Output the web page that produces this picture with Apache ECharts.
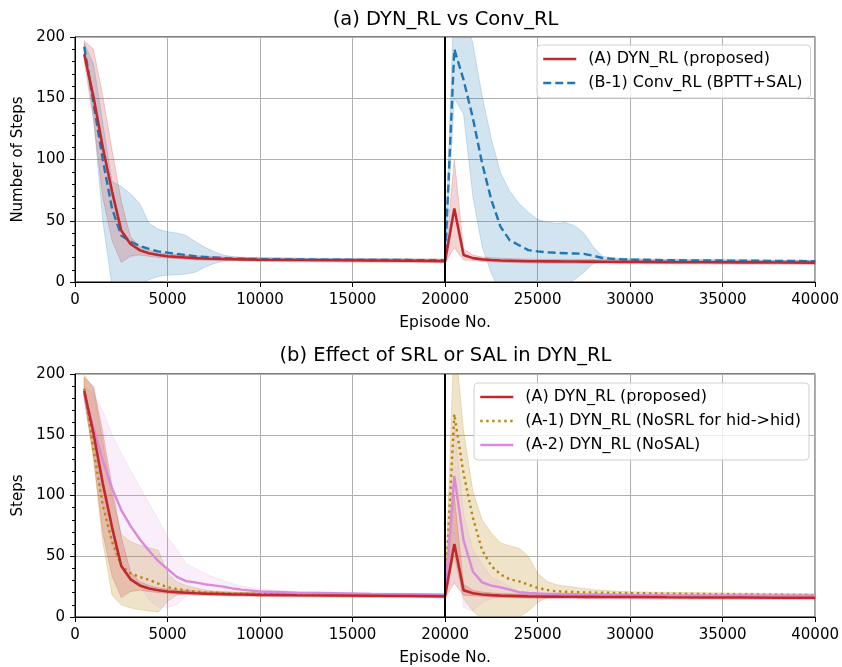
<!DOCTYPE html>
<html><head><meta charset="utf-8">
<script src="https://cdn.jsdelivr.net/npm/echarts@6/dist/echarts.min.js"></script>
<style>html,body{margin:0;padding:0;background:#fff}#c{width:842px;height:667px}</style>
</head><body><div id="c"></div>
<script>
const episodes = [500,1000,1500,2000,2500,3000,3500,4000,4500,5000,5500,6000,6500,7000,7500,8000,8500,9000,10000,12000,14000,16000,18000,20000,
  20500,21000,21500,22000,22500,23000,23500,24000,24500,25000,25500,26000,26500,27000,27500,28000,28500,29000,29500,30000,
  32000,34000,36000,38000,40000];
const switchEpisode = 20000;

const dynMean = [186,151,110,74,42,31,26,23.5,22,21,20.5,20,19.5,19.2,19,18.8,18.6,18.5,18.2,17.9,17.7,17.5,17.3,17.0,
  60,22,19.5,18.5,18,17.6,17.4,17.2,17,16.9,16.8,16.8,16.7,16.7,16.6,16.6,16.5,16.5,16.4,16.4,
  16.2,16.1,16.0,15.9,15.8];
const dynHi = [197,190,152,108,66,37,29,26,24,23,22.5,22,21.5,21,20.8,20.5,20.3,20.2,19.9,19.5,19.3,19.1,18.9,18.6,
  100,27,22,20.5,20,19.4,19.1,18.9,18.7,18.6,18.5,18.5,18.4,18.4,18.3,18.3,18.2,18.2,18.1,18.1,
  17.9,17.8,17.7,17.6,17.5];
const dynLo = [180,132,69,34,16,21,22,21,20,19.5,19,18.5,18,17.8,17.6,17.4,17.2,17.1,16.8,16.5,16.3,16.1,15.9,15.6,
  28,18,17.5,16.8,16.4,16.1,15.9,15.7,15.5,15.4,15.3,15.3,15.2,15.2,15.1,15.1,15.0,15.0,14.9,14.9,
  14.7,14.6,14.5,14.4,14.3];

const convMean = [192,146,100,60,38,33,29.5,27,25,24,23,22,21,20.5,20,19.5,19.2,19,18.7,18.4,18.2,18.0,17.9,17.8,
  190,165,134,97,67,45,34,30,26,25,24.2,23.8,23.5,23.3,23,21.5,19.6,19,18.6,18.3,
  17.8,17.6,17.4,17.2,17.0];
const convHi = [195,178,130,82,78,72,64,48,43,41,40,38,33,28.5,25,22,20.8,20,19.6,19.3,19.1,18.9,18.8,18.7,
  240,222,195,152,117,89,74,64,57,51,49,48,48.5,46,40,29,21,19.8,19.4,19.1,
  18.6,18.3,18.1,17.9,17.7];
const convLo = [188,135,50,-3,-5,-5,-2,2,4.5,5.5,6,6.5,8,12,15,17,17.5,17.6,17.6,17.5,17.3,17.1,17,16.9,
  150,137,70,29,7,-8,-10,-10,-10,-10,-8,-5,-3,2,8,15,18,18,17.8,17.6,
  17.2,17.0,16.8,16.6,16.4];

const noSrlMean = [188,138,92,62,42,36,33,30.5,27.5,24.5,23,22,21,20.3,20,19.6,19.3,19.1,18.8,18.4,18.1,17.9,17.7,17.5,
  167,118,82,55,42,35,31,29.4,26.6,24,22.2,21.2,20.8,20.5,20.3,20.1,20,19.9,19.8,19.7,
  19.2,18.9,18.6,18.3,18.0];
const noSrlHi = [199,188,145,100,68,62,59,57,55,36,29,26,24,22.5,21.5,21,20.5,20.3,20,19.6,19.3,19.1,18.9,18.7,
  235,153,104,80,69,61,58.5,56.6,50,36,29.4,26.6,25.5,24.5,23.5,22.5,22,21.5,21,20.8,
  20.3,20,19.7,19.4,19.1];
const noSrlLo = [180,130,62,18,10,7.5,6,5,4,13,18,19,19.2,19,18.8,18.6,18.4,18.2,18,17.6,17.4,17.2,17,16.8,
  50,15,5,-2,-6,-6,-3,0,5,12,16,17.5,18,18.2,18.3,18.3,18.2,18.2,18.1,18.1,
  17.8,17.6,17.4,17.2,17];

const noSalMean = [184,156,129,106,88,75,64,54.5,46,39.5,33,29.5,28.5,27,26,25,23.5,22.5,21,20,19.5,19,18.7,18.3,
  116,63,37.5,28.5,25.8,24.4,22.5,20.4,19.8,19.3,19,18.9,18.8,18.7,18.6,18.5,18.4,18.3,18.2,18.1,
  17.9,17.8,17.7,17.6,17.5];
const noSalHi = [190,184,170,150,135,121,107,94,80,66,56,44,40,36,33,30,27.5,25.5,23,21,20.5,20,19.7,19.4,
  160,85,55,44,33,29,25,21,20.5,20,19.8,19.7,19.6,19.5,19.4,19.3,19.2,19.1,19,19,
  18.8,18.7,18.6,18.5,18.4];
const noSalLo = [178,138,92,60,42,33,26,14,8,8,10,17,19.5,20,20,19.5,19.2,19,18.5,18.2,18,17.8,17.6,17.4,
  70,8,5,12,15,17,17.5,17.8,17.8,17.7,17.6,17.5,17.4,17.3,17.2,17.1,17,17,16.9,16.9,
  16.7,16.6,16.5,16.4,16.3];

const titles = ['(a) DYN_RL vs Conv_RL', '(b) Effect of SRL or SAL in DYN_RL'];
const yNames = ['Number of Steps', 'Steps'];
const xName = 'Episode No.';
const names = {
  dyn: '(A) DYN_RL (proposed)',
  conv: '(B-1) Conv_RL (BPTT+SAL)',
  noSrl: '(A-1) DYN_RL (NoSRL for hid->hid)',
  noSal: '(A-2) DYN_RL (NoSAL)'
};

const FONT = 'DejaVu Sans';
const C = { red:'#c0282d', blue:'#1f77b4', gold:'#b8860b', violet:'#da8ada' };
function rgba(hex, a){ const n=parseInt(hex.slice(1),16); return `rgba(${n>>16},${(n>>8)&255},${n&255},${a})`; }

function band(idx, lo, hi, color, alpha){
  return {
    type:'custom', xAxisIndex:idx, yAxisIndex:idx, clip:true, silent:true, z:1,
    data: episodes.map((x,i)=>[x, lo[i], hi[i]]),
    encode:{x:0, y:[1,2]},
    renderItem:function(params, api){
      if (params.dataIndex !== 0) return null;
      const pts=[];
      for (let i=0;i<episodes.length;i++) pts.push(api.coord([episodes[i], hi[i]]));
      for (let i=episodes.length-1;i>=0;i--) pts.push(api.coord([episodes[i], lo[i]]));
      return {type:'polygon', shape:{points:pts}, style:{fill:rgba(color,alpha), stroke:rgba(color,alpha), lineWidth:1}};
    }
  };
}
function line(idx, name, vals, color, type, width){
  return {
    type:'line', name:name, xAxisIndex:idx, yAxisIndex:idx, z:3,
    data: episodes.map((x,i)=>[x, vals[i]]),
    symbol:'none', showSymbol:false, smooth:false, clip:true,
    lineStyle:{color:color, width:width, type:type},
    itemStyle:{color:color},
    emphasis:{disabled:true}
  };
}
function vline(idx){
  return {
    type:'line', xAxisIndex:idx, yAxisIndex:idx, data:[], silent:true, z:4,
    markLine:{symbol:['none','none'], silent:true, label:{show:false},
      lineStyle:{color:'#000', width:2, type:'solid'},
      data:[{xAxis:switchEpisode}]}
  };
}

const grids = [
  {left:75, top:37, width:741, height:245, show:true, borderColor:'#000', borderWidth:1, backgroundColor:'transparent'},
  {left:75, top:374, width:741, height:245, show:true, borderColor:'#000', borderWidth:1, backgroundColor:'transparent'}
];
function xAxis(idx){
  return {type:'value', gridIndex:idx, min:0, max:40000, interval:5000,
    name:xName, nameLocation:'middle', nameGap:33,
    nameTextStyle:{fontFamily:FONT, fontSize:15.5, color:'#000'},
    axisLine:{show:true, lineStyle:{color:'#000', width:1}},
    axisTick:{show:true, inside:false, length:5, lineStyle:{color:'#000'}},
    axisLabel:{fontFamily:FONT, fontSize:15, color:'#000', margin:11, formatter:(v)=>String(v)},
    splitLine:{show:true, lineStyle:{color:'#b0b0b0', width:1}}};
}
function yAxis(idx){
  return {type:'value', gridIndex:idx, min:0, max:200, interval:50,
    name:yNames[idx], nameLocation:'middle', nameGap:49, nameRotate:90,
    nameTextStyle:{fontFamily:FONT, fontSize:15, color:'#000'},
    axisLine:{show:true, lineStyle:{color:'#000', width:1}},
    axisTick:{show:true, inside:false, length:5, lineStyle:{color:'#000'}},
    minorTick:{show:true, splitNumber:5, length:3, lineStyle:{color:'#000'}},
    axisLabel:{fontFamily:FONT, fontSize:15, color:'#000', margin:10},
    splitLine:{show:true, lineStyle:{color:'#b0b0b0', width:1}}};
}
const legendBase = {
  orient:'vertical', backgroundColor:'rgba(255,255,255,0.8)', borderColor:'#d0d0d0', borderWidth:1, borderRadius:4,
  itemWidth:33, itemHeight:16, itemGap:8,
  itemStyle:{opacity:0},
  lineStyle:{width:2.5},
  textStyle:{fontFamily:FONT, fontSize:16, color:'#000', lineHeight:16, padding:[0,0,0,7]},
  selectedMode:false
};

const option = {
  animation:false,
  title: [
    {text:titles[0], left:445.5, top:10, textAlign:'center', padding:0, textStyle:{fontFamily:FONT, fontSize:19.5, fontWeight:'normal', color:'#000'}},
    {text:titles[1], left:445.5, top:346, textAlign:'center', padding:0, textStyle:{fontFamily:FONT, fontSize:19.5, fontWeight:'normal', color:'#000'}}
  ],
  grid: grids,
  xAxis:[xAxis(0), xAxis(1)],
  yAxis:[yAxis(0), yAxis(1)],
  legend:[
    Object.assign({}, legendBase, {left:537, top:45, padding:[6,8,7,5], data:[names.dyn, names.conv]}),
    Object.assign({}, legendBase, {left:474, top:383, padding:[6,8,7,5], data:[names.dyn+' ', names.noSrl, names.noSal]})
  ],
  series:[
    band(0, convLo, convHi, C.blue, 0.2),
    band(0, dynLo, dynHi, C.red, 0.2),
    line(0, names.conv, convMean, C.blue, [8,4], 2.4),
    line(0, names.dyn, dynMean, C.red, 'solid', 2.6),
    vline(0),
    band(1, noSrlLo, noSrlHi, C.gold, 0.22),
    band(1, noSalLo, noSalHi, C.violet, 0.15),
    band(1, dynLo, dynHi, C.red, 0.2),
    line(1, names.noSrl, noSrlMean, C.gold, [2.4,3.6], 2.4),
    line(1, names.noSal, noSalMean, C.violet, 'solid', 2.4),
    line(1, names.dyn+' ', dynMean, C.red, 'solid', 2.6),
    vline(1)
  ]
};
const chart = echarts.init(document.getElementById('c'), null, {renderer:'canvas'});
chart.setOption(option);
</script></body></html>
